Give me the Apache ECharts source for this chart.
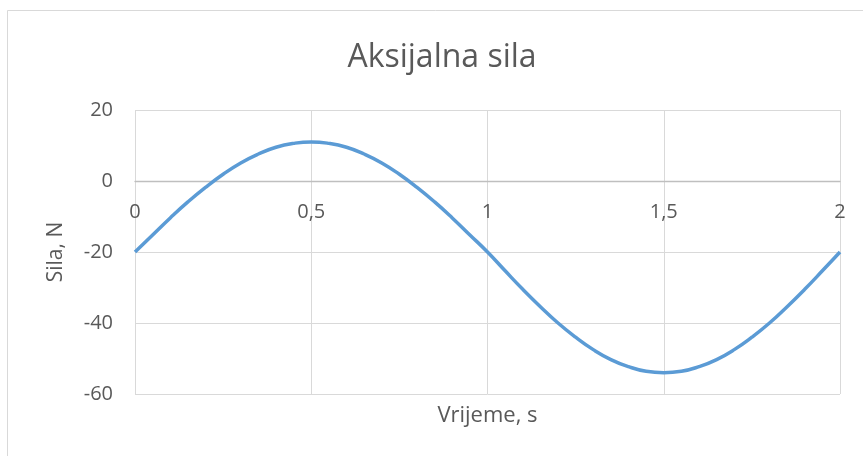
<!DOCTYPE html>
<html>
<head>
<meta charset="utf-8">
<script src="https://cdn.jsdelivr.net/npm/echarts@6/dist/echarts.min.js"></script>
<style>
html,body{margin:0;padding:0;background:#fff;}
#c{width:863px;height:456px;}
</style>
</head>
<body>
<div id="c"></div>
<script>
const title = "Aksijalna sila";
const xName = "Vrijeme, s";
const yName = "Sila, N";
const time = [0,0.05,0.1,0.15,0.2,0.25,0.3,0.35,0.4,0.45,0.5,0.55,0.6,0.65,0.7,0.75,0.8,0.85,0.9,0.95,1,
  1.05,1.1,1.15,1.2,1.25,1.3,1.35,1.4,1.45,1.5,1.55,1.6,1.65,1.7,1.75,1.8,1.85,1.9,1.95,2];
const force = [-20,-15.2,-10.4,-5.9,-1.8,1.9,5.1,7.6,9.5,10.6,11,10.6,9.5,7.6,5.1,1.9,-1.8,-5.9,-10.4,-15.2,-20,
  -25.3,-30.5,-35.4,-40,-44,-47.5,-50.3,-52.3,-53.6,-54,-53.6,-52.3,-50.3,-47.5,-44,-40,-35.4,-30.5,-25.3,-20];
const xTicks = [0,0.5,1,1.5,2];
const yTicks = [-60,-40,-20,0,20];

const font = "'Open Sans', sans-serif";
const txt = '#595959';
const gridTop = 110, gridH = 284;
const zeroOffset = gridH * (0 - yTicks[0]) / (yTicks[yTicks.length-1] - yTicks[0]);
const chart = echarts.init(document.getElementById('c'), null, {renderer:'canvas'});
chart.setOption({
  animation:false,
  backgroundColor:'#fff',
  graphic:[{type:'rect', shape:{x:7.5,y:10.5,width:900,height:500}, style:{fill:'none',stroke:'#d9d9d9',lineWidth:1}, silent:true}],
  title:{text:title,top:42,padding:0,textStyle:{fontFamily:font,fontSize:32,fontWeight:'normal',color:txt},
    left:442,textAlign:'center'},
  grid:{left:135,right:23,top:gridTop,height:gridH,containLabel:false,outerBoundsMode:'none'},
  xAxis:{type:'value',min:xTicks[0],max:xTicks[xTicks.length-1],interval:0.5,
    position:'bottom',offset:-zeroOffset,
    name:xName,nameLocation:'middle',nameGap:224,
    nameTextStyle:{fontFamily:font,fontSize:22,color:txt},
    axisLine:{show:true,onZero:false,lineStyle:{color:'#bfbfbf',width:1.3}},
    axisTick:{show:false},
    axisLabel:{fontFamily:font,fontSize:20,color:txt,margin:21,formatter:v=>String(v).replace('.',',')},
    splitLine:{show:true,lineStyle:{color:'#d9d9d9',width:1}}},
  yAxis:{type:'value',min:yTicks[0],max:yTicks[yTicks.length-1],interval:20,
    name:yName,nameLocation:'middle',nameGap:68,nameRotate:90,
    nameTextStyle:{fontFamily:font,fontSize:21,color:txt},
    axisLine:{show:false},axisTick:{show:false},
    axisLabel:{fontFamily:font,fontSize:20,color:txt,margin:22},
    splitLine:{show:true,lineStyle:{color:'#d9d9d9',width:1}}},
  series:[{type:'line',data:time.map((t,i)=>[t,force[i]]),smooth:true,showSymbol:false,
    lineStyle:{color:'#5b9bd5',width:3.5},itemStyle:{color:'#5b9bd5'}}]
});
</script>
</body>
</html>
